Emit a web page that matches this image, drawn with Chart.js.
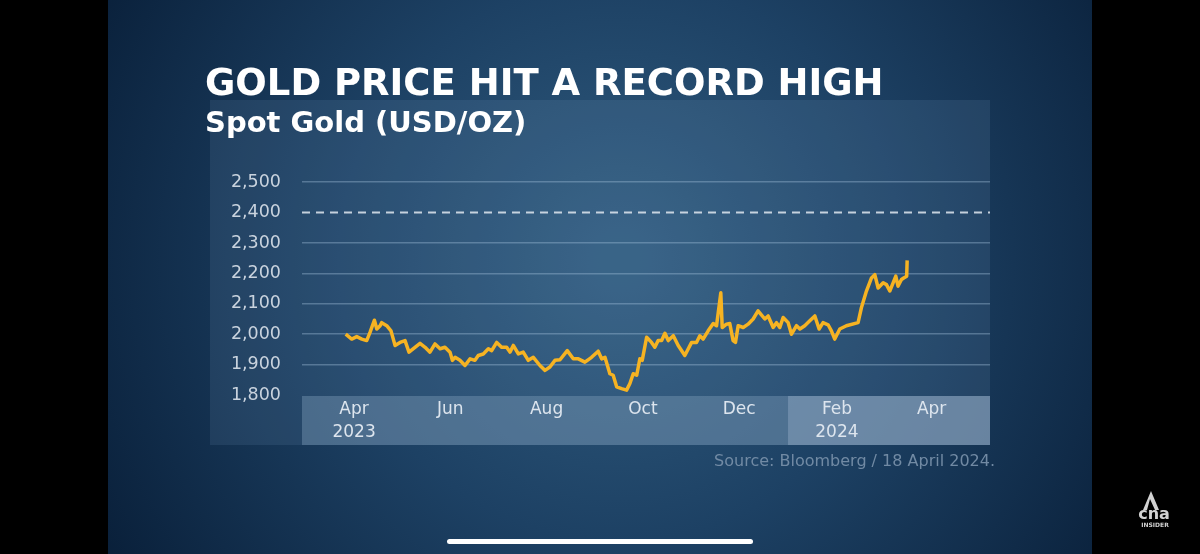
<!DOCTYPE html>
<html>
<head>
<meta charset="utf-8">
<script src="https://cdn.jsdelivr.net/npm/chart.js@4.4.1/dist/chart.umd.min.js"></script>
<style>
html, body { margin: 0; padding: 0; background: #000; }
#goldchart { display: block; }
</style>
</head>
<body>
<canvas id="goldchart" width="1200" height="554"></canvas>
<script>
// spot gold, x = days counted from 1 Apr 2023
var dayOffset = [-5.3,-1.5,1.7,4.9,8.0,10.1,12.9,14.4,16.5,17.5,
    20.7,23.4,26.0,29.1,32.3,34.8,38.6,41.8,45.0,48.1,
    51.3,54.5,57.6,60.8,62.3,64.0,67.1,70.3,73.5,76.6,
    78.7,81.9,85.1,87.2,90.4,93.5,96.7,98.8,100.9,104.1,
    107.2,110.4,113.6,117.8,121.0,124.1,127.3,130.5,135.1,138.9,
    142.1,146.3,150.5,154.7,156.9,159.0,162.1,164.2,166.4,169.5,
    172.7,174.8,176.9,179.1,181.1,182.6,185.4,188.5,190.6,192.7,
    194.9,197.0,199.1,202.3,205.4,209.6,213.9,217.0,219.1,221.2,
    224.4,227.6,229.7,232.4,233.3,236.0,238.1,240.2,241.7,243.4,
    246.6,249.7,252.9,256.0,260.3,262.4,265.6,267.7,269.8,271.9,
    275.1,277.2,280.4,282.5,285.6,288.8,292.0,294.7,297.2,300.4,
    302.5,304.6,307.8,312.0,319.4,321.5,324.7,327.9,330.0,332.1,
    335.3,337.4,339.5,341.6,343.3,344.7,346.9,348.3,350.2,350.5];
var goldPrice = [2000,1984,1992,1984,1979,2006,2046,2017,2028,2038,
    2028,2011,1963,1973,1979,1941,1957,1970,1957,1941,
    1968,1952,1957,1941,1914,1924,1914,1897,1919,1914,
    1930,1935,1952,1946,1973,1957,1957,1941,1963,1935,
    1941,1914,1924,1897,1881,1892,1914,1916,1946,1919,
    1919,1908,1924,1944,1919,1924,1870,1865,1827,1821,
    1816,1838,1870,1865,1919,1914,1990,1973,1957,1979,
    1979,2003,1979,1995,1963,1930,1973,1973,1995,1984,
    2011,2035,2028,2136,2022,2033,2035,1979,1973,2028,
    2022,2033,2050,2077,2050,2060,2022,2038,2022,2055,
    2038,2000,2028,2017,2028,2044,2060,2017,2038,2031,
    2011,1984,2017,2028,2038,2087,2142,2185,2196,2152,
    2169,2163,2142,2169,2191,2158,2180,2185,2191,2243];
var tickDays = [0, 61, 122, 183, 244, 306, 366];
var tickLabels = [['Apr', '2023'], 'Jun', 'Aug', 'Oct', 'Dec', ['Feb', '2024'], 'Apr'];
var start2024 = 275;
var recordHigh = 2400;

var points = dayOffset.map(function (d, i) { return { x: d, y: goldPrice[i] }; });

//fondo, panel y banda del eje x
var backdrop = {
    id: 'backdrop',
    beforeDraw: function (chart) {
        var c = chart.ctx;
        var w = chart.width, h = chart.height;
        c.save();
        var g = c.createRadialGradient(620, 260, 20, 620, 260, 600);
        g.addColorStop(0, '#2f5a7d');
        g.addColorStop(0.45, '#1d4164');
        g.addColorStop(1, '#091f39');
        c.fillStyle = g;
        c.fillRect(0, 0, w, h);
        // panel claro detras del grafico
        c.fillStyle = 'rgba(130,170,205,0.13)';
        c.fillRect(210, 100, 780, 345);
        // banda del eje x
        var x = chart.scales.x;
        var split = x.getPixelForValue(start2024);
        c.fillStyle = 'rgba(120,150,180,0.45)';
        c.fillRect(x.left, x.top + 1, split - x.left, x.height - 1);
        c.fillStyle = 'rgba(155,180,205,0.58)';
        c.fillRect(split, x.top + 1, x.right - split, x.height - 1);
        // barras negras del video
        c.fillStyle = '#000';
        c.fillRect(0, 0, 108, h);
        c.fillRect(1092, 0, w - 1092, h);
        c.restore();
    },
    beforeDatasetsDraw: function (chart) {
        var c = chart.ctx;
        var y = chart.scales.y.getPixelForValue(recordHigh);
        var area = chart.chartArea;
        c.save();
        c.strokeStyle = 'rgba(225,232,240,0.85)';
        c.lineWidth = 2;
        c.setLineDash([8, 6]);
        c.beginPath();
        c.moveTo(area.left, y);
        c.lineTo(area.right, y);
        c.stroke();
        c.restore();
    },
    afterDraw: function (chart) {
        var c = chart.ctx;
        c.save();
        c.font = '16px "DejaVu Sans"';
        c.fillStyle = 'rgba(118,142,168,0.95)';
        c.textAlign = 'right';
        c.textBaseline = 'middle';
        c.fillText('Source: Bloomberg / 18 April 2024.', 995, 462);
        // logo cna
        c.fillStyle = '#d2d2d2';
        c.beginPath();
        c.moveTo(1151, 491);
        c.lineTo(1159, 510);
        c.lineTo(1155, 510);
        c.lineTo(1150, 499);
        c.lineTo(1147, 510);
        c.lineTo(1143, 510);
        c.closePath();
        c.fill();
        c.textAlign = 'center';
        c.font = 'bold 16px "DejaVu Sans"';
        c.fillText('cna', 1154, 515);
        c.font = 'bold 6px "DejaVu Sans"';
        c.fillText('INSIDER', 1155, 525);
        // barra inferior
        c.fillStyle = '#ffffff';
        c.beginPath();
        c.roundRect(447, 539, 306, 5, 2.5);
        c.fill();
        c.restore();
    }
};

var ctx = document.getElementById('goldchart').getContext('2d');
var myChart = new Chart(ctx, {
    type: 'line',
    data: {
        datasets: [{
            data: points,
            borderColor: '#f6b322',
            borderWidth: 3.5,
            borderJoinStyle: 'round',
            pointRadius: 0,
            tension: 0
        }]
    },
    options: {
        responsive: false,
        devicePixelRatio: 1,
        animation: false,
        layout: {
            padding: { left: 205, right: 210, top: 0, bottom: 109 }
        },
        plugins: {
            legend: { display: false },
            tooltip: { enabled: false },
            title: {
                display: true,
                text: 'GOLD PRICE HIT A RECORD HIGH',
                align: 'start',
                color: '#ffffff',
                font: { family: 'DejaVu Sans', size: 37, weight: 'bold' },
                padding: { top: 63, bottom: 0 }
            },
            subtitle: {
                display: true,
                text: 'Spot Gold (USD/OZ)',
                align: 'start',
                color: '#ffffff',
                font: { family: 'DejaVu Sans', size: 29, weight: 'bold' },
                padding: { top: 0, bottom: 40 }
            }
        },
        scales: {
            x: {
                type: 'linear',
                min: -33,
                max: 403,
                afterBuildTicks: function (s) {
                    s.ticks = tickDays.map(function (d) { return { value: d }; });
                },
                afterFit: function (s) { s.height = 50; },
                ticks: {
                    autoSkip: false,
                    maxRotation: 0,
                    padding: 3,
                    color: '#dde5ee',
                    font: { family: 'DejaVu Sans', size: 17, lineHeight: 1.35 },
                    callback: function (v, i) { return tickLabels[i]; }
                },
                grid: { display: false, drawTicks: false },
                border: { display: false }
            },
            y: {
                min: 1800,
                max: 2500,
                afterFit: function (s) { s.width = 97; },
                ticks: {
                    stepSize: 100,
                    padding: 21,
                    color: '#c9d3de',
                    font: { family: 'DejaVu Sans', size: 17.5 },
                    callback: function (v) { return v.toLocaleString('en-US'); }
                },
                grid: {
                    drawTicks: false,
                    lineWidth: 1.5,
                    color: function (c) {
                        if (c.tick && (c.tick.value === recordHigh || c.tick.value === 1800)) return 'rgba(0,0,0,0)';
                        return 'rgba(165,195,220,0.38)';
                    }
                },
                border: { display: false }
            }
        }
    },
    plugins: [backdrop]
});
</script>
</body>
</html>
